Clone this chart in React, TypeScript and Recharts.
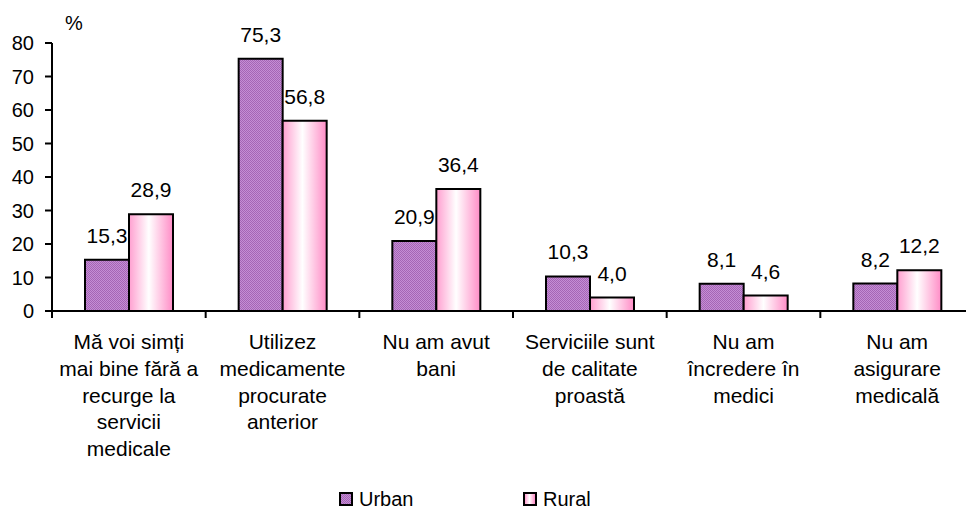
import React from "react";
import { BarChart, Bar, XAxis, YAxis, Legend, LabelList, Label } from "recharts";

const categories = [
  "Mă voi simți\nmai bine fără a\nrecurge la\nservicii\nmedicale",
  "Utilizez\nmedicamente\nprocurate\nanterior",
  "Nu am avut\nbani",
  "Serviciile sunt\nde calitate\nproastă",
  "Nu am\nîncredere în\nmedici",
  "Nu am\nasigurare\nmedicală",
];
const urban = [15.3, 75.3, 20.9, 10.3, 8.1, 8.2];
const rural = [28.9, 56.8, 36.4, 4.0, 4.6, 12.2];
const yTicks = [0, 10, 20, 30, 40, 50, 60, 70, 80];

const data = categories.map((name, i) => ({ name, urban: urban[i], rural: rural[i] }));

const FONT = "'Liberation Sans', Arial, sans-serif";
const fmt = (v: any) => Number(v).toFixed(1).replace(".", ",");

function CategoryTick(props: any) {
  const { x, y, payload, index, visibleTicksCount } = props;
  const half = payload && payload.offset ? payload.offset : 922 / 6 / 2;
  const lines = String(payload.value).split("\n");
  return (
    <g>
      <line x1={x - half} x2={x - half} y1={y} y2={y + 7} stroke="#000" strokeWidth={2} />
      {index === visibleTicksCount - 1 && (
        <line x1={x + half} x2={x + half} y1={y} y2={y + 7} stroke="#000" strokeWidth={2} />
      )}
      <text x={x} y={y + 38} textAnchor="middle" fontSize={21} fill="#000">
        {lines.map((l, i) => (
          <tspan key={i} x={x} dy={i === 0 ? 0 : 26.8}>
            {l}
          </tspan>
        ))}
      </text>
    </g>
  );
}

function LegendBox({ left, label, bg }: { left: number; label: string; bg: string }) {
  return (
    <>
      <span
        style={{
          position: "absolute",
          left,
          top: 3,
          width: 14,
          height: 14,
          boxSizing: "border-box",
          border: "2px solid #000",
          background: bg,
        }}
      />
      <span style={{ position: "absolute", left: left + 20, top: 0, fontSize: 20, lineHeight: "20px", color: "#000" }}>
        {label}
      </span>
    </>
  );
}

function renderLegend() {
  return (
    <div style={{ position: "relative", height: 20, fontFamily: FONT }}>
      <LegendBox
        left={339}
        label="Urban"
        bg="repeating-conic-gradient(#a565b5 0% 25%, #c58ed5 0% 50%) 0 0 / 2px 2px"
      />
      <LegendBox left={523} label="Rural" bg="linear-gradient(90deg, #ff9fd0, #ffffff 45%, #ff8cc6)" />
    </div>
  );
}

export default function App() {
  return (
    <div
      style={{
        position: "fixed",
        left: 0,
        top: 0,
        width: 966,
        height: 509,
        overflow: "hidden",
        background: "#fff",
        fontFamily: FONT,
      }}
    >
      <BarChart
        width={980}
        height={509}
        data={data}
        margin={{ top: 43, right: 6, left: 0, bottom: 0 }}
        barCategoryGap={33}
        barGap={0}
      >
        <defs>
          <pattern id="urbanFill" width="2" height="2" patternUnits="userSpaceOnUse">
            <rect width="2" height="2" fill="#c58ed5" />
            <rect width="1" height="1" fill="#a565b5" />
            <rect x="1" y="1" width="1" height="1" fill="#a565b5" />
          </pattern>
          <linearGradient id="ruralFill" x1="0" y1="0" x2="1" y2="0">
            <stop offset="0%" stopColor="#ff9fd0" />
            <stop offset="45%" stopColor="#ffffff" />
            <stop offset="100%" stopColor="#ff8cc6" />
          </linearGradient>
        </defs>
        <XAxis
          dataKey="name"
          height={198}
          interval={0}
          tickSize={0}
          tickMargin={0}
          tickLine={false}
          axisLine={{ stroke: "#000", strokeWidth: 2 }}
          tick={<CategoryTick />}
        />
        <YAxis
          width={52}
          domain={[0, 80]}
          ticks={yTicks}
          interval={0}
          tickSize={7}
          tickMargin={11}
          axisLine={{ stroke: "#000", strokeWidth: 2 }}
          tickLine={{ stroke: "#000", strokeWidth: 2 }}
          tick={{ fill: "#000", fontSize: 20 }}
        >
          <Label
            content={(p: any) => {
              const vb = p.viewBox || { x: 0, y: 43, width: 52 };
              return (
                <text x={vb.x + vb.width + 13} y={vb.y - 13} fontSize={20} fill="#000">
                  %
                </text>
              );
            }}
          />
        </YAxis>
        <Legend
          layout="horizontal"
          verticalAlign="middle"
          align="center"
          wrapperStyle={{ top: 489, left: 0, width: 966 }}
          content={renderLegend}
        />
        <Bar dataKey="urban" name="Urban" fill="url(#urbanFill)" stroke="#000" strokeWidth={2} isAnimationActive={false}>
          <LabelList dataKey="urban" position="top" offset={17} fontSize={21} fill="#000" formatter={fmt} />
        </Bar>
        <Bar dataKey="rural" name="Rural" fill="url(#ruralFill)" stroke="#000" strokeWidth={2} isAnimationActive={false}>
          <LabelList dataKey="rural" position="top" offset={17} fontSize={21} fill="#000" formatter={fmt} />
        </Bar>
      </BarChart>
    </div>
  );
}
